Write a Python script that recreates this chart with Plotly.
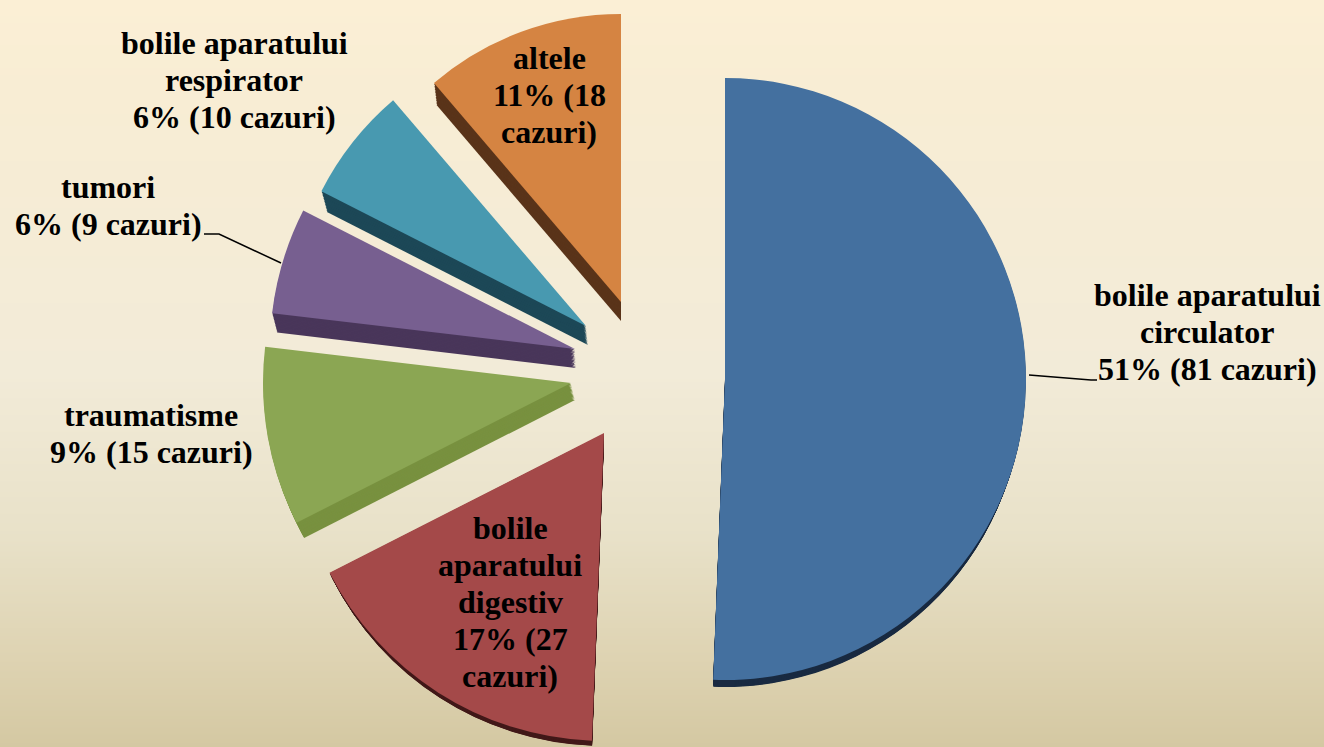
import plotly.graph_objects as go

WIDTH, HEIGHT = 1324, 747

categories = ["bolile aparatului circulator", "bolile aparatului digestiv", "traumatisme",
              "tumori", "bolile aparatului respirator", "altele"]
cases = [81, 27, 15, 9, 10, 18]
face_colors = ["#44709F", "#A44949", "#8BA653", "#775F90", "#4899B0", "#D58442"]
side_colors = ["#1A2B42", "#431A1A", "#78913F", "#49365A", "#1D4857", "#5A341A"]

# layout: where each exploded wedge's apex sits (px), its radius, and the extrusion offset
apex_x = [725, 604, 571, 575, 586, 621]
apex_y = [379, 433, 383, 349, 326, 302]
radii = [301, 308, 308, 305, 297, 288]
side_dx = [0, 0, 4, 1, 2, 0]
side_dy = [11, 9, 17, 19, 19, 19]
side_layers = 14

label_lines = [
    ["bolile aparatului", "circulator", "51% (81 cazuri)"],
    ["bolile", "aparatului", "digestiv", "17% (27", "cazuri)"],
    ["traumatisme", "9% (15 cazuri)"],
    ["tumori", "6% (9 cazuri)"],
    ["bolile aparatului", "respirator", "6% (10 cazuri)"],
    ["altele", "11% (18", "cazuri)"],
]
label_x = [1207, 510, 151, 108, 234, 549]
label_first_y = [295, 528, 415, 187, 43, 58]
LINE_STEP = 37

bg_positions = [0.0, 0.12, 0.5, 0.72, 0.88, 1.0]
bg_colors = ["#FBEFD5", "#F8EDD4", "#F2EBD8", "#E8E1C8", "#DED3B2", "#D4C8A2"]

FONT = "Liberation Serif"
FONT_SIZE = 32
total = sum(cases)


def wedge(i, cx, cy, r, color):
    before = sum(cases[:i])
    after = total - before - cases[i]
    return go.Pie(
        values=[before, cases[i], after],
        marker=dict(colors=["rgba(0,0,0,0)", color, "rgba(0,0,0,0)"], line=dict(width=0)),
        sort=False, direction="clockwise", rotation=0,
        textinfo="none", hoverinfo="skip", showlegend=False,
        domain=dict(x=[(cx - r) / WIDTH, (cx + r) / WIDTH],
                    y=[1 - (cy + r) / HEIGHT, 1 - (cy - r) / HEIGHT]),
    )


fig = go.Figure()

steps = 64
ys = [k / (steps - 1) for k in range(steps)]
fig.add_trace(go.Heatmap(
    x=[0, 1], y=ys, z=[[1 - v, 1 - v] for v in ys],
    colorscale=[[p, c] for p, c in zip(bg_positions, bg_colors)],
    zmin=0, zmax=1, zsmooth="best", showscale=False, hoverinfo="skip",
))

for i in range(len(cases)):
    for k in range(side_layers, 0, -1):
        f = k / side_layers
        fig.add_trace(wedge(i, apex_x[i] + side_dx[i] * f, apex_y[i] + side_dy[i] * f,
                            radii[i] - 4 * f, side_colors[i]))
for i in range(len(cases)):
    fig.add_trace(wedge(i, apex_x[i], apex_y[i], radii[i], face_colors[i]))

annotations = []
for lines, x, first_y in zip(label_lines, label_x, label_first_y):
    for n, line in enumerate(lines):
        annotations.append(dict(
            text=f"<b>{line}</b>", x=x / WIDTH, y=1 - (first_y + n * LINE_STEP) / HEIGHT,
            xref="paper", yref="paper", xanchor="center", yanchor="middle",
            align="center", showarrow=False,
            font=dict(family=FONT, size=FONT_SIZE, color="#000000"),
        ))


def leader(points):
    path = "M " + " L ".join(f"{x / WIDTH:.5f},{1 - y / HEIGHT:.5f}" for x, y in points)
    return dict(type="path", path=path, xref="paper", yref="paper",
                line=dict(color="#000000", width=1.5))


shapes = [
    leader([(1029, 375), (1091, 380), (1097, 380)]),
    leader([(204, 234), (219, 234), (281, 263)]),
]

fig.update_layout(
    width=WIDTH, height=HEIGHT, margin=dict(l=0, r=0, t=0, b=0),
    paper_bgcolor="#F5ECD7", plot_bgcolor="#F5ECD7",
    xaxis=dict(visible=False, range=[0, 1], fixedrange=True),
    yaxis=dict(visible=False, range=[0, 1], fixedrange=True),
    annotations=annotations, shapes=shapes,
)

fig.write_html("out.html", post_script="document.body.style.margin='0';",
               config={"displayModeBar": False})
